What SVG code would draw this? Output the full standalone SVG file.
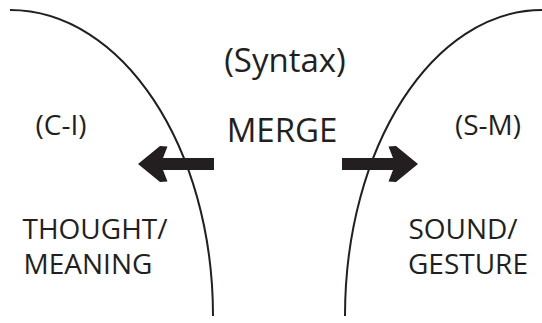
<svg xmlns="http://www.w3.org/2000/svg" width="542" height="323" viewBox="0 0 542 323">
  <style>
    .bound { fill: none; stroke: #231f20; stroke-width: 2; }
    .arrow { fill: #231f20; }
    .lbl { font-family: "Open Sans", "Noto Sans", sans-serif; fill: #231f20; text-anchor: middle; }
    .big { font-size: 33px; }
    .mid { font-size: 28px; }
  </style>
  <defs>
    <!-- thick chevron arrow pointing left, tip at x=138 -->
    <polygon id="thickArrow" points="138,164 160,146 167.5,146.5 163,158 214,158 214,170 163,170 167.5,181.5 160,182"/>
  </defs>

  <!-- interface boundaries -->
  <g id="boundaries">
    <path id="ci-boundary" class="bound" d="M10,10 C122,10 213,147 213,316"/>
    <path id="sm-boundary" class="bound" d="M542,10 C433,10 345,147 345,316"/>
  </g>

  <g id="syntax">
    <text class="lbl big" x="285" y="72">(Syntax)</text>
    <text class="lbl big" x="282" y="141.5">MERGE</text>
  </g>

  <g id="ci">
    <text class="lbl mid" x="61" y="135">(C-I)</text>
    <text class="lbl mid" x="95" y="238.5">THOUGHT/</text>
    <text class="lbl mid" x="88" y="273.5">MEANING</text>
  </g>

  <g id="sm">
    <text class="lbl mid" x="488" y="135">(S-M)</text>
    <text class="lbl mid" x="463" y="238.5">SOUND/</text>
    <text class="lbl mid" x="468" y="273.5">GESTURE</text>
  </g>

  <g id="connectors">
    <use href="#thickArrow" class="arrow"/>
    <use href="#thickArrow" class="arrow" transform="translate(556,0) scale(-1,1)"/>
  </g>
</svg>
